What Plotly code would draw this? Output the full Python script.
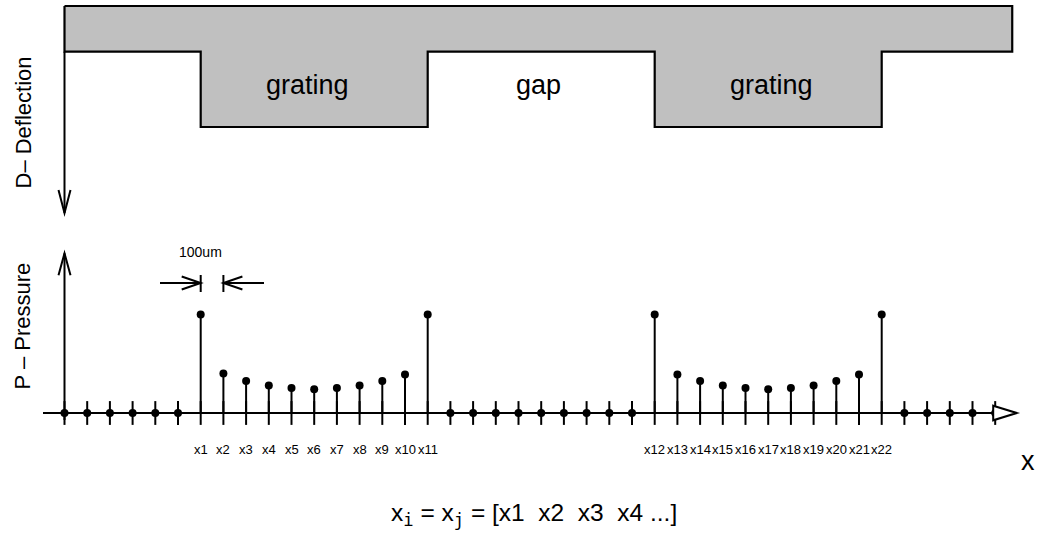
import plotly.graph_objects as go

# ---------------- data ----------------
sample_index = list(range(0, 42))
pressure = [0, 0, 0, 0, 0, 0,
            1.00, 0.40, 0.325, 0.28, 0.255, 0.24, 0.255, 0.28, 0.325, 0.39, 1.00,
            0, 0, 0, 0, 0, 0, 0, 0, 0,
            1.00, 0.39, 0.325, 0.28, 0.255, 0.24, 0.255, 0.28, 0.325, 0.39, 1.00,
            0, 0, 0, 0, 0]
sample_labels = ["x%d" % k for k in range(1, 23)]
grating_start = [6, 26]
grating_end = [16, 36]
grating_depth = 1.0
plate_thickness = 0.607
plate_end = 41.75
region_names = ["grating", "gap", "grating"]

# ---------------- geometry (pixel calibration) ----------------
W, H = 1039, 538
X0_PX, DX_PX = 64.5, 22.7
P_BASE_PX, P_UNIT_PX = 413.0, 98.5
D0_PX, D_UNIT_PX = 51.7, 75.3


def xi(px):
    return (px - X0_PX) / DX_PX


def yp(px):
    return (P_BASE_PX - px) / P_UNIT_PX


def yd(px):
    return (px - D0_PX) / D_UNIT_PX


FONT = "Liberation Sans, Arial, Helvetica, sans-serif"

fig = go.Figure()

# plate with gratings (deflection axis y2)
px_, py_ = [0, plate_end, plate_end], [-plate_thickness, -plate_thickness, 0]
for s, e in sorted(zip(grating_start, grating_end), reverse=True):
    px_ += [e, e, s, s]
    py_ += [0, grating_depth, grating_depth, 0]
px_ += [0, 0]
py_ += [0, -plate_thickness]
fig.add_trace(go.Scatter(x=px_, y=py_, yaxis="y2", mode="lines", fill="toself",
                         fillcolor="#c0c0c0", line=dict(color="black", width=2.2),
                         hoverinfo="skip", showlegend=False))

# baseline ticks
fig.add_trace(go.Scatter(x=sample_index, y=[0] * len(sample_index), mode="markers",
                         marker=dict(symbol="line-ns-open", size=17, color="black",
                                     line=dict(color="black", width=2)),
                         hoverinfo="skip", showlegend=False))

# stems
sx, sy = [], []
for i, v in zip(sample_index, pressure):
    if v > 0:
        sx += [i, i, None]
        sy += [0, v, None]
fig.add_trace(go.Scatter(x=sx, y=sy, mode="lines", line=dict(color="black", width=2),
                         hoverinfo="skip", showlegend=False))

# baseline line
fig.add_shape(type="line", xref="x", yref="y", x0=xi(43), x1=sample_index[-1], y0=0, y1=0,
              line=dict(color="black", width=2))

# dots
fig.add_trace(go.Scatter(x=sample_index, y=pressure, mode="markers",
                         marker=dict(color="black", size=8),
                         hoverinfo="skip", showlegend=False))

# x-axis hollow arrow head
fig.add_shape(type="path", xref="x", yref="y", xsizemode="pixel", ysizemode="pixel",
              xanchor=sample_index[-1], yanchor=0,
              path="M -2,7.3 L 21.5,0 L -2,-7.3 Z", fillcolor="white",
              line=dict(color="black", width=2))

# deflection axis (down arrow)
d_tip = yd(213)
fig.add_shape(type="line", xref="x", yref="y2", x0=0, x1=0, y0=0, y1=d_tip,
              line=dict(color="black", width=2))
fig.add_shape(type="path", xref="x", yref="y2", xsizemode="pixel", ysizemode="pixel",
              xanchor=0, yanchor=d_tip, path="M -6,23 L 0,0 L 6,23",
              line=dict(color="black", width=2))

# pressure axis (up arrow)
p_tip = yp(253.3)
fig.add_shape(type="line", xref="x", yref="y", x0=0, x1=0, y0=yp(420), y1=p_tip,
              line=dict(color="black", width=2))
fig.add_shape(type="path", xref="x", yref="y", xsizemode="pixel", ysizemode="pixel",
              xanchor=0, yanchor=p_tip, path="M -6,-22 L 0,0 L 6,-22",
              line=dict(color="black", width=2))

# dimension arrows (spacing between x1 and x2)
dim_y = yp(283)
a, b = grating_start[0], grating_start[0] + 1
fig.add_shape(type="line", xref="x", yref="y", x0=xi(160), x1=a, y0=dim_y, y1=dim_y,
              line=dict(color="black", width=2))
fig.add_shape(type="line", xref="x", yref="y", x0=b, x1=xi(264), y0=dim_y, y1=dim_y,
              line=dict(color="black", width=2))
for anc, path in [(a, "M -19,6.5 L 0,0 L -19,-6.5"), (b, "M 19,6.5 L 0,0 L 19,-6.5"),
                  (a, "M 0,8 L 0,-9"), (b, "M 0,8 L 0,-9")]:
    fig.add_shape(type="path", xref="x", yref="y", xsizemode="pixel", ysizemode="pixel",
                  xanchor=anc, yanchor=dim_y, path=path,
                  line=dict(color="black", width=2))

ann = []
# region labels
centers = [(grating_start[0] + grating_end[0]) / 2 - 0.28,
           (grating_end[0] + grating_start[1]) / 2 - 0.1,
           (grating_start[1] + grating_end[1]) / 2 + 0.15]
for c, name in zip(centers, region_names):
    ann.append(dict(x=c, y=yd(85), xref="x", yref="y2", text=name, showarrow=False,
                    xanchor="center", yanchor="middle",
                    font=dict(family=FONT, size=27, color="black")))

# sample labels
lab_pos = [i for i, v in zip(sample_index, pressure) if v > 0]
for i, t in zip(lab_pos, sample_labels):
    ann.append(dict(x=i, y=yp(449), xref="x", yref="y", text=t, showarrow=False,
                    xanchor="center", yanchor="middle",
                    font=dict(family=FONT, size=13, color="black")))

ann.append(dict(x=(a + b) / 2 - 0.5, y=yp(251.5), xref="x", yref="y", text="100um",
                showarrow=False, xanchor="center", yanchor="middle",
                font=dict(family=FONT, size=14, color="black")))
ann.append(dict(x=xi(1028), y=yp(461), xref="x", yref="y", text="x", showarrow=False,
                xanchor="center", yanchor="middle",
                font=dict(family=FONT, size=27, color="black")))
ann.append(dict(x=23 / W, y=1 - 122.5 / H, xref="paper", yref="paper", text="D\u2013 Deflection",
                textangle=-90, showarrow=False, xanchor="center", yanchor="middle",
                font=dict(family=FONT, size=22, color="black")))
ann.append(dict(x=22 / W, y=1 - 326.5 / H, xref="paper", yref="paper", text="P \u2013 Pressure",
                textangle=-90, showarrow=False, xanchor="center", yanchor="middle",
                font=dict(family=FONT, size=22, color="black")))
mono = "<span style='font-family:DejaVu Sans Mono'>%s</span>"
formula = ("x<sub>" + mono % "i" + "</sub> = x<sub>" + mono % "j" + "</sub> = "
           "[x1\u00a0\u00a0x2\u00a0\u00a0x3\u00a0\u00a0x4 ...]")
ann.append(dict(x=533.5 / W, y=1 - 514 / H, xref="paper", yref="paper", text=formula,
                showarrow=False, xanchor="center", yanchor="middle",
                font=dict(family=FONT, size=24.5, color="black")))

fig.update_layout(
    width=W, height=H, autosize=False,
    margin=dict(l=0, r=0, t=0, b=0, pad=0),
    paper_bgcolor="white", plot_bgcolor="white",
    xaxis=dict(range=[xi(0), xi(W)], visible=False, fixedrange=True),
    yaxis=dict(range=[yp(H), yp(0)], visible=False, fixedrange=True),
    yaxis2=dict(range=[yd(H), yd(0)], visible=False, overlaying="y", anchor="x",
                fixedrange=True),
    annotations=ann,
    showlegend=False,
)

fig.write_html("out.html")
